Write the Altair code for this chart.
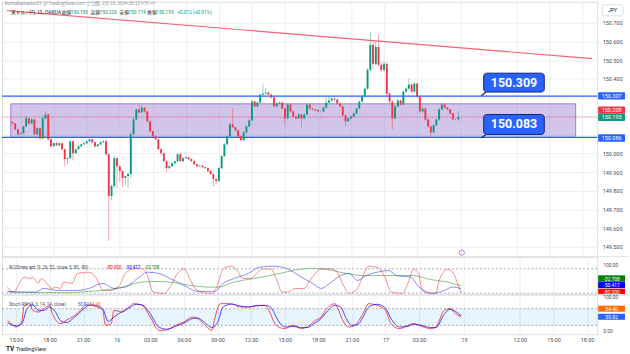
import altair as alt
import pandas as pd

# ---------------- data ----------------
candle_t0 = -3          # first candle index (15-min bars, 0 = day 15 15:00)
first_open = 150.170
closes = [
    150.161, 150.129, 150.103, 150.108, 150.145, 150.188, 150.161, 150.182, 150.103, 150.135,
    150.081, 150.188, 150.209, 150.076, 150.039, 150.055, 150.044, 150.055, 150.023, 149.970,
    149.975, 150.065, 150.002, 150.023, 150.039, 150.049, 150.055, 150.065, 150.076, 150.060,
    150.039, 150.049, 150.060, 150.065, 149.996, 149.773, 149.826, 149.975, 149.932, 149.906,
    149.869, 149.879, 149.890, 150.103, 150.182, 150.236, 150.220, 150.246, 150.225, 150.172,
    150.119, 150.092, 150.076, 150.023, 150.002, 149.959, 149.922, 149.932, 149.948, 149.959,
    149.996, 149.959, 149.975, 149.980, 149.970, 149.959, 149.943, 149.932, 149.935, 149.927,
    149.922, 149.906, 149.890, 149.863, 149.853, 149.922, 149.986, 150.049, 150.092, 150.156,
    150.140, 150.124, 150.092, 150.071, 150.113, 150.145, 150.177, 150.278, 150.252, 150.273,
    150.315, 150.321, 150.326, 150.315, 150.300, 150.252, 150.268, 150.273, 150.241, 150.188,
    150.262, 150.225, 150.198, 150.188, 150.209, 150.188, 150.209, 150.262, 150.241, 150.236,
    150.231, 150.225, 150.225, 150.246, 150.273, 150.284, 150.294, 150.289, 150.268, 150.252,
    150.204, 150.172, 150.188, 150.198, 150.214, 150.241, 150.278, 150.305, 150.347, 150.448,
    150.581, 150.480, 150.571, 150.475, 150.448, 150.480, 150.321, 150.278, 150.188, 150.252,
    150.284, 150.262, 150.331, 150.347, 150.369, 150.331, 150.374, 150.305, 150.225, 150.241,
    150.182, 150.145, 150.113, 150.151, 150.182, 150.236, 150.262, 150.246, 150.236, 150.214,
    150.182, 150.183, 150.195,
]
wick_up = [  # thousandths of a yen above the body
    4, 3, 5, 3, 6, 12, 4, 6, 3, 5,
    3, 15, 16, 4, 5, 3, 6, 4, 5, 3,
    6, 5, 4, 3, 5, 4, 3, 6, 4, 5,
    3, 4, 5, 6, 15, 5, 8, 15, 6, 4,
    5, 3, 6, 10, 10, 6, 25, 15, 5, 4,
    5, 3, 6, 4, 5, 3, 4, 6, 5, 4,
    6, 8, 5, 4, 3, 5, 4, 3, 5, 4,
    3, 4, 5, 3, 4, 6, 5, 6, 4, 8,
    87, 5, 4, 6, 5, 4, 6, 8, 5, 6,
    8, 48, 25, 6, 5, 4, 6, 5, 4, 5,
    6, 4, 5, 3, 6, 4, 5, 8, 4, 5,
    3, 4, 6, 5, 25, 20, 6, 5, 4, 5,
    4, 6, 5, 4, 6, 5, 6, 8, 6, 10,
    70, 20, 30, 64, 15, 12, 8, 6, 5, 8,
    6, 5, 8, 10, 30, 6, 8, 5, 4, 6,
    5, 4, 3, 6, 5, 8, 10, 6, 4, 5,
    4, 5, 31,
]
wick_dn = [  # thousandths of a yen below the body
    5, 4, 6, 5, 3, 4, 6, 3, 5, 4,
    6, 3, 4, 5, 6, 4, 5, 3, 6, 40,
    30, 5, 40, 4, 3, 5, 4, 6, 3, 5,
    6, 4, 5, 3, 6, 240, 23, 10, 120, 60,
    50, 40, 60, 20, 5, 4, 6, 3, 5, 6,
    4, 5, 6, 4, 8, 6, 20, 5, 4, 6,
    5, 4, 6, 3, 5, 4, 6, 5, 4, 6,
    5, 8, 6, 40, 15, 5, 6, 4, 5, 6,
    4, 5, 6, 5, 4, 6, 5, 4, 6, 5,
    4, 5, 6, 5, 4, 6, 5, 4, 6, 43,
    5, 6, 8, 5, 4, 45, 5, 4, 6, 5,
    4, 5, 6, 4, 5, 6, 4, 5, 6, 5,
    6, 27, 5, 4, 6, 5, 4, 6, 5, 6,
    8, 30, 10, 8, 12, 10, 15, 10, 60, 6,
    5, 6, 4, 5, 6, 5, 4, 6, 8, 5,
    6, 5, 30, 6, 5, 4, 6, 5, 4, 6,
    5, 4, 9,
]

time_ticks = [0, 12, 24, 36, 48, 60, 72, 84, 96, 108, 120, 132, 144, 160, 180, 192, 204]
time_labels = ["15:00", "18:00", "21:00", "16", "03:00", "06:00", "09:00", "12:00",
               "15:00", "18:00", "21:00", "17", "03:00", "19", "12:00", "15:00", "18:00"]
price_ticks = [149.5, 149.6, 149.7, 149.8, 149.9, 150.0, 150.1, 150.2, 150.3, 150.4,
               150.5, 150.6, 150.7]

zone_t = [-3.6, 201.6]
zone_p = [150.086, 150.266]
level_lines = [150.307, 150.086]
last_price = 150.195
trend_t = [-5.0, 207.6]
trend_p = [150.765, 150.508]
callout_values = [150.309, 150.083]
callout_p_lo = [150.329, 150.102]
callout_p_hi = [150.430, 150.209]
tag_text = ["150.307", "150.208", "150.195", "150.086"]
tag_center = [150.309, 150.232, 150.193, 150.083]
tag_color = ["#2962FF", "#F23645", "#089981", "#2962FF"]

# RCI3lines (9, 26, 52)
rci_red_t = [-3, -1, 3, 5, 6, 8, 9, 13, 14, 16, 17, 20, 22, 26, 28, 30, 31, 34, 37, 39,
             42, 45, 47, 49, 53, 55, 58, 60, 62, 64, 66, 70, 72, 74, 77, 79, 81, 84, 86, 88,
             91, 93, 95, 97, 100, 103, 105, 107, 109, 113, 115, 117, 119, 122, 124, 126, 129,
             132, 134, 138, 140, 142, 144, 145, 148, 150, 151, 154, 156, 158, 159]
rci_red_v = [-40, -73, 25, 17, 25, -16, 17, -49, -40, -49, -7, -16, 50, 58, 36, -29, -62, -62,
             -29, 50, 80, 84, 36, -73, -82, -40, 58, 80, 17, -49, -73, -82, -29, 80, 98, 69,
             17, 17, 50, 80, 80, 17, -73, -73, -49, -49, 4, 50, 80, 80, 50, -29, -82, -49, 36,
             97, 91, 17, -73, -82, -16, 80, 36, -62, -82, -82, -7, 76, 58, -29, -80]
rci_blue_t = [-3, 1, 7, 10, 15, 22, 26, 31, 35, 39, 44, 47, 51, 55, 60, 65, 71, 74, 78, 83,
              87, 92, 97, 102, 106, 109, 112, 116, 119, 122, 125, 129, 133, 136, 141, 144,
              149, 153, 156, 159]
rci_blue_v = [-68, -73, -73, -49, -62, -62, -49, -16, -49, -40, 25, 58, 50, 17, -29, -68, -68,
              -16, 17, 50, 91, 98, 80, 25, -16, -49, -16, 36, 50, 4, 36, 58, 69, 36, 25, -40,
              -80, -62, -40, -50.4]
rci_green_t = [-3, 19, 26, 31, 38, 45, 51, 57, 61, 69, 72, 78, 85, 92, 99, 105, 109, 113, 118,
               124, 132, 142, 148, 154, 159]
rci_green_v = [-73, -77, -68, -62, -40, -7, -3, -12, -25, -40, -40, -7, 17, 41, 69, 84, 82, 69,
               50, 36, 36, 36, 10, -7, -32.7]

# Stoch RSI (3, 3, 14, 14)
k_t = [-3, -1, 0, 2, 3, 5, 6, 8, 10, 12, 13, 16, 18, 21, 23, 25, 27, 29, 31, 32, 34, 35, 38,
       41, 42, 45, 48, 51, 53, 57, 60, 63, 65, 67, 70, 71, 73, 77, 80, 83, 86, 89, 90, 93, 96,
       99, 102, 104, 107, 109, 111, 114, 115, 117, 119, 121, 124, 126, 129, 132, 134, 137,
       140, 142, 144, 148, 150, 153, 155, 157, 159]
k_v = [38, 20, 14, 32, 92, 98, 74, 68, 80, 92, 62, 26, 38, 56, 74, 94, 92, 86, 74, 20, 26, 74,
       68, 92, 98, 92, 50, 2, 2, 20, 32, 50, 44, 26, 2, 44, 98, 98, 86, 86, 92, 92, 80, 20, 8,
       20, 8, 14, 38, 50, 80, 98, 80, 32, 14, 20, 62, 98, 92, 74, 26, 8, 20, 26, 20, 8, 14, 74,
       80, 62, 50.8]
d_t = [-3, 0, 2, 4, 6, 8, 10, 12, 14, 16, 18, 21, 23, 25, 27, 29, 31, 33, 35, 38, 41, 43, 45,
       48, 51, 54, 57, 60, 63, 65, 67, 70, 72, 74, 77, 80, 83, 86, 89, 91, 94, 96, 99, 102,
       104, 107, 109, 111, 114, 116, 118, 120, 122, 124, 126, 129, 132, 134, 137, 140, 142,
       144, 148, 150, 153, 155, 157, 159]
d_v = [30, 18, 24, 80, 94, 74, 74, 86, 70, 36, 30, 50, 68, 86, 94, 90, 80, 34, 50, 70, 86, 96,
       94, 62, 14, 6, 16, 28, 44, 46, 34, 12, 30, 86, 96, 90, 86, 90, 92, 84, 32, 14, 16, 12,
       12, 30, 44, 68, 92, 86, 44, 20, 22, 50, 86, 96, 82, 44, 14, 16, 24, 22, 12, 12, 60, 78,
       70, 54.4]

# ---------------- styling / layout ----------------
UP, DN = "#089981", "#F23645"
FONT = "Roboto"
JP = "Noto Sans CJK JP"
GRID = "#eceef2"
W = 598
H_MAIN, H_RCI, H_STO = 256, 38, 40
XD = [-4.98, 207.6]
PD = [149.448, 150.812]
RD = [-88.5, 160.7]
SD = [-12.2, 131.4]

one = pd.DataFrame({"a": [0]})

x_grid_axis = alt.Axis(values=time_ticks, labels=False, ticks=False, domain=False,
                       grid=True, gridColor=GRID, gridWidth=1, title=None)
x_axis_bottom = alt.Axis(
    values=time_ticks,
    labelExpr="[" + ",".join(f"'{s}'" for s in time_labels) + "][indexof(["
              + ",".join(str(v) for v in time_ticks) + "], datum.value)]",
    labelFontSize=5.5, labelColor="#4a4d57", labelFont=FONT, ticks=False, domain=False,
    grid=True, gridColor=GRID, labelPadding=3, title=None, labelFlush=False,
    labelOverlap=False)
y_axis = alt.Axis(orient="right", values=price_ticks,
                  labelExpr="(datum.value > 150.05 && datum.value < 150.35) ? '' : format(datum.value, '.3f')",
                  labelFontSize=5.5, labelColor="#4a4d57", labelFont=FONT, ticks=False,
                  domain=False, grid=True, gridColor=GRID, labelPadding=5, title=None,
                  labelOverlap=False)


def xs(field, axis):
    return alt.X(field, type="quantitative",
                 scale=alt.Scale(domain=XD, nice=False, zero=False), axis=axis)


def ys(field, domain, axis=None):
    return alt.Y(field, type="quantitative",
                 scale=alt.Scale(domain=domain, nice=False, zero=False), axis=axis)


def txt(s, x, y, color="#131722", size=5, weight="normal", align="left", font=FONT):
    return alt.Chart(one).mark_text(
        align=align, baseline="middle", fontSize=size, fontWeight=weight,
        color=color, font=font
    ).encode(x=alt.value(x), y=alt.value(y), text=alt.value(s))


# candles
rows = []
prev = first_open
for i, c in enumerate(closes):
    o = prev
    rows.append({
        "t": candle_t0 + i, "open": o, "close": c,
        "high": max(o, c) + wick_up[i] / 1000.0,
        "low": min(o, c) - wick_dn[i] / 1000.0,
        "col": UP if c >= o else DN,
    })
    prev = c
cdf = pd.DataFrame(rows)

XA, YA = x_grid_axis, y_axis

zone = alt.Chart(pd.DataFrame({"t0": [zone_t[0]], "t1": [zone_t[1]],
                               "p0": [zone_p[0]], "p1": [zone_p[1]]})).mark_rect(
    fill="#9575CD", fillOpacity=0.42, stroke="#9C7FE0", strokeWidth=1
).encode(x=xs("t0", XA), x2="t1", y=ys("p0", PD, YA), y2="p1")

levels = alt.Chart(pd.DataFrame({"p": level_lines})).mark_rule(
    color="#2962FF", strokeWidth=1.3).encode(y=ys("p", PD, YA))

lastline = alt.Chart(pd.DataFrame({"p": [last_price]})).mark_rule(
    color="#F23645", strokeWidth=0.9, strokeDash=[1, 1.5], opacity=0.8
).encode(y=ys("p", PD, YA))

trend = alt.Chart(pd.DataFrame({"t": trend_t, "p": trend_p})).mark_line(
    color="#F7525F", strokeWidth=1.1, opacity=0.9).encode(x=xs("t", XA), y=ys("p", PD, YA))

wicks = alt.Chart(cdf).mark_rule(strokeWidth=1, opacity=0.45).encode(
    x=xs("t", XA), y=ys("low", PD, YA), y2="high", color=alt.Color("col:N", scale=None))

bodies = alt.Chart(cdf).mark_bar(size=1.9).encode(
    x=xs("t", XA), y=ys("open", PD, YA), y2="close",
    color=alt.Color("col:N", scale=None))

cal = pd.DataFrame({
    "label": [f"{v:.3f}" for v in callout_values],
    "lvl": callout_values, "lo": callout_p_lo, "hi": callout_p_hi,
    "t0": [168.2, 168.2], "t1": [190.2, 190.2], "tc": [179.2, 179.2],
    "tail": [167.3, 167.3], "tb": [169.0, 169.0],
})
cal["pc"] = (cal["lo"] + cal["hi"]) / 2
cal_tail = alt.Chart(cal).mark_rule(color="#1c2a5a", strokeWidth=1.2).encode(
    x=xs("tail", XA), x2="tb", y=ys("lvl", PD, YA), y2="lo")
cal_box = alt.Chart(cal).mark_rect(
    fill="#2962FF", stroke="#102372", strokeWidth=1, cornerRadius=3
).encode(x=xs("t0", XA), x2="t1", y=ys("lo", PD, YA), y2="hi")
cal_txt = alt.Chart(cal).mark_text(
    color="white", fontSize=12.5, fontWeight="bold", font=FONT, baseline="middle"
).encode(x=xs("tc", XA), y=ys("pc", PD, YA), text="label:N")

tags = pd.DataFrame({"txt": tag_text, "pc": tag_center, "col": tag_color})
tags["lo"] = tags["pc"] - 0.0195
tags["hi"] = tags["pc"] + 0.0195
tag_box = alt.Chart(tags).mark_rect(cornerRadius=1).encode(
    x=alt.value(599), x2=alt.value(626), y=ys("lo", PD, YA), y2="hi",
    color=alt.Color("col:N", scale=None))
tag_txt = alt.Chart(tags).mark_text(color="white", fontSize=5.5, font=FONT,
                                    baseline="middle").encode(
    x=alt.value(612.5), y=ys("pc", PD, YA), text="txt:N")

jpy_box = alt.Chart(one).mark_rect(fill="white", stroke="#d1d4dc", strokeWidth=0.8,
                                   cornerRadius=2).encode(
    x=alt.value(603), x2=alt.value(624), y=alt.value(3), y2=alt.value(14))

event_icon = alt.Chart(one).mark_point(shape="circle", size=28, color="#B44FD6",
                                       strokeWidth=1, filled=False).encode(
    x=alt.value(462), y=alt.value(252))

GREEN = "#089981"
header = [
    txt("kumakamaster01 が TradingView.com で公開, 2月 19, 2024 20:12 UTC+9", 3, 2.5,
        "#8a8d96", 4.6, font=JP),
    txt("米ドル／円, 15, OANDA", 9, 11.5, "#131722", 4.8, font=JP),
    txt("始値", 60, 11.5, "#131722", 4.8, font=JP),
    txt("150.183", 69, 11.5, GREEN, 4.8),
    txt("高値", 89, 11.5, "#131722", 4.8, font=JP),
    txt("150.226", 98, 11.5, GREEN, 4.8),
    txt("安値", 118, 11.5, "#131722", 4.8, font=JP),
    txt("150.174", 127, 11.5, GREEN, 4.8),
    txt("終値", 146, 11.5, "#131722", 4.8, font=JP),
    txt("150.195", 155, 11.5, GREEN, 4.8),
    txt("+0.012 (+0.01%)", 176, 11.5, GREEN, 4.8),
    txt("JPY", 613.5, 8.5, "#131722", 5, align="center"),
]

main = alt.layer(
    zone, levels, lastline, trend, wicks, bodies,
    cal_tail, cal_box, cal_txt, tag_box, tag_txt, jpy_box, event_icon, *header
).properties(width=W, height=H_MAIN)

# ---------------- RCI pane ----------------
rci_df = pd.concat([
    pd.DataFrame({"t": rci_red_t, "v": rci_red_v, "s": "a_red"}),
    pd.DataFrame({"t": rci_blue_t, "v": rci_blue_v, "s": "b_blue"}),
    pd.DataFrame({"t": rci_green_t, "v": rci_green_v, "s": "c_green"}),
])
rci_sep = alt.Chart(one).mark_rule(color="#e0e3eb", strokeWidth=1).encode(
    x=alt.value(0), x2=alt.value(630), y=alt.value(0))
rci_lines = alt.Chart(rci_df).mark_line(strokeWidth=1, opacity=0.45,
                                        interpolate="monotone").encode(
    x=xs("t", XA), y=ys("v", RD),
    color=alt.Color("s:N", scale=alt.Scale(domain=["a_red", "b_blue", "c_green"],
                                           range=["#FF0000", "#0000FF", "#008000"]),
                    legend=None),
    detail="s:N")
rci_lvls = alt.Chart(pd.DataFrame({"v": [80, -80]})).mark_rule(
    color="#9598a1", strokeWidth=0.8, strokeDash=[2, 2]).encode(y=ys("v", RD))
rci_tags = pd.DataFrame({"txt": ["-32.708", "-50.417", "-80.000"],
                         "pc": [16.4, -26.2, -72.1],
                         "col": ["#008000", "#0000FF", "#FF0000"]})
rci_tags["lo"] = rci_tags["pc"] - 21
rci_tags["hi"] = rci_tags["pc"] + 21
rci_tag_box = alt.Chart(rci_tags).mark_rect().encode(
    x=alt.value(599), x2=alt.value(626), y=ys("lo", RD), y2="hi",
    color=alt.Color("col:N", scale=None))
rci_tag_txt = alt.Chart(rci_tags).mark_text(color="white", fontSize=5, font=FONT,
                                            baseline="middle").encode(
    x=alt.value(612.5), y=ys("pc", RD), text="txt:N")
rci_texts = [
    txt("RCI3lines-apt (9, 26, 52, close, 5, 80, -80)", 7, 11.3, "#4a4d57", 4.5),
    txt("-80.000", 105, 11.3, "#FF0000", 4.5),
    txt("-50.417", 124, 11.3, "#0000FF", 4.5),
    txt("-32.708", 143, 11.3, "#008000", 4.5),
    txt("100.00", 604, 8.5, "#4a4d57", 5),
]
rci = alt.layer(rci_lines, rci_sep, rci_lvls, rci_tag_box, rci_tag_txt,
                *rci_texts).properties(width=W, height=H_RCI)

# ---------------- Stoch RSI pane ----------------
XB = x_axis_bottom
sto_df = pd.concat([
    pd.DataFrame({"t": k_t, "v": k_v, "s": "k"}),
    pd.DataFrame({"t": d_t, "v": d_v, "s": "d"}),
])
band = alt.Chart(pd.DataFrame({"t0": [XD[0]], "t1": [XD[1]], "v0": [20], "v1": [80]})
                 ).mark_rect(fill="#2196F3", fillOpacity=0.1).encode(
    x=xs("t0", XB), x2="t1", y=ys("v0", SD), y2="v1")
sto_lvls = alt.Chart(pd.DataFrame({"v": [80, 20]})).mark_rule(
    color="#9598a1", strokeWidth=0.8, strokeDash=[2, 2]).encode(y=ys("v", SD))
sto_sep = alt.Chart(one).mark_rule(color="#e0e3eb", strokeWidth=1).encode(
    x=alt.value(0), x2=alt.value(630), y=alt.value(0))
sto_lines = alt.Chart(sto_df).mark_line(strokeWidth=1, opacity=0.7,
                                        interpolate="monotone").encode(
    x=xs("t", XB), y=ys("v", SD),
    color=alt.Color("s:N", scale=alt.Scale(domain=["k", "d"],
                                           range=["#2962FF", "#FF6D00"]), legend=None),
    detail="s:N")
sto_tags = pd.DataFrame({"txt": ["54.40", "50.82"], "pc": [80.0, 50.8],
                         "col": ["#FF6D00", "#2962FF"]})
sto_tags["lo"] = sto_tags["pc"] - 10.8
sto_tags["hi"] = sto_tags["pc"] + 10.8
sto_tag_box = alt.Chart(sto_tags).mark_rect().encode(
    x=alt.value(599), x2=alt.value(626), y=ys("lo", SD), y2="hi",
    color=alt.Color("col:N", scale=None))
sto_tag_txt = alt.Chart(sto_tags).mark_text(color="white", fontSize=5, font=FONT,
                                            baseline="middle").encode(
    x=alt.value(612.5), y=ys("pc", SD), text="txt:N")
sto_texts = [
    txt("Stoch RSI (3, 3, 14, 14, close)", 7, 10.3, "#4a4d57", 4.5),
    txt("50.82", 76, 10.3, "#2962FF", 4.5),
    txt("54.40", 88, 10.3, "#FF6D00", 4.5),
    txt("100.00", 604, 3, "#4a4d57", 5),
    txt("0.00", 604, 36.6, "#4a4d57", 5),
    txt("TV", 4, 55, "#131722", 6.5, weight="bold"),
    txt("TradingView", 14, 55, "#131722", 5.5),
]
sto = alt.layer(band, sto_sep, sto_lvls, sto_lines, sto_tag_box, sto_tag_txt,
                *sto_texts).properties(width=W, height=H_STO)

chart = alt.vconcat(main, rci, sto, spacing=0, bounds="flush").properties(
    padding=0
).configure_view(stroke=None).configure(background="white")

chart.save("out.html", embed_options={"renderer": "svg", "actions": False})
